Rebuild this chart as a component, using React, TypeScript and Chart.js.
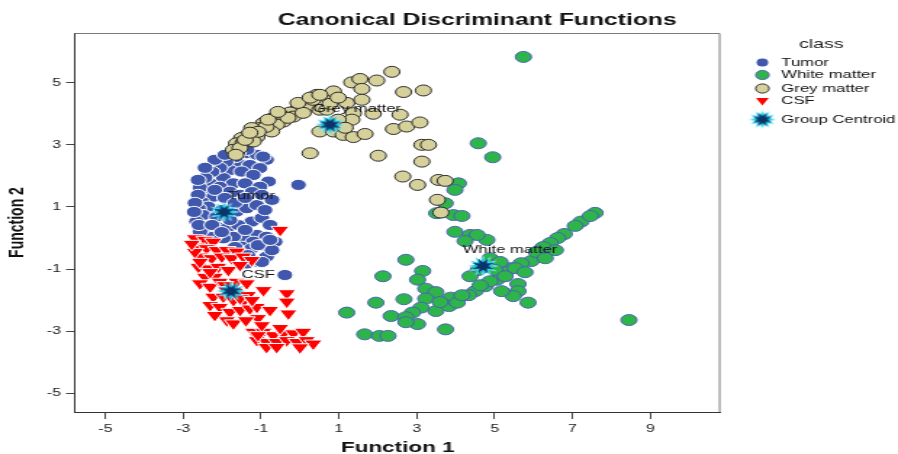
import React, { useEffect, useRef } from 'react';
import { Chart, registerables } from 'chart.js';

Chart.register(...registerables);

// ---------- text ----------
const chartTitle = 'Canonical Discriminant Functions';
const xAxisTitle = 'Function 1';
const yAxisTitle = 'Function 2';
const legendTitle = 'class';
const classNames = ['Tumor', 'White matter', 'Grey matter', 'CSF'];
const centroidLegendLabel = 'Group Centroid';

// ---------- axes ----------
const xTickValues = [-5, -3, -1, 1, 3, 5, 7, 9];
const yTickValues = [-5, -3, -1, 1, 3, 5];
const xRange = [-5.78, 10.8];
const yRange = [-5.6, 6.6];

// ---------- data (Function 1, Function 2) ----------
const tumorPoints: [number, number][] = [
  [-1.37, 2.73], [-1.11, 2.68], [-0.86, 2.52], [-1.59, 2.41], [-1.29, 2.35], [-1.03, 2.25], [-1.8, 2.19],
  [-1.5, 2.14], [-1.2, 2.03], [-0.81, 1.82], [-2.14, 2.03], [-1.97, 1.93], [-1.71, 1.76], [-1.41, 1.76],
  [-1.03, 1.65], [-2.31, 1.76], [-2.06, 1.65], [-1.8, 1.49], [-2.44, 1.49], [-2.23, 1.33], [-2.53, 1.17],
  [-2.36, 1.01], [-2.61, 0.96], [-2.49, 0.74], [-2.14, 0.69], [-1.63, 0.85], [-1.37, 0.96], [-1.11, 1.06],
  [-1.24, 0.53], [-2.66, 0.53], [-2.4, 0.36], [-2.14, 0.36], [-1.88, 0.31], [-1.59, 0.42], [-1.11, 0.1],
  [-0.86, 0.04], [-0.64, -0.12], [-1.46, -0.01], [-1.2, -0.12], [-1.71, 0.04], [-1.97, -0.01], [-2.23, 0.04],
  [-2.57, 0.2], [-1.5, -0.28], [-1.24, -0.33], [-0.86, -0.6], [-1.11, -0.76], [-1.37, -0.82], [-0.39, -1.19],
  [-0.04, 1.71], [-1.65, 2.61], [-1.9, 2.45], [-2.06, 2.26], [-2.26, 2.13], [-2.44, 1.94], [-2.57, 1.61],
  [-2.62, 1.39], [-2.7, 1.13], [-2.72, 0.84], [-2.6, 0.42], [-0.95, 2.62], [-1.36, 2.84], [-1.59, 2.77],
  [-1.85, 1.23], [-1.54, 1.39], [-1.23, 1.48], [-2.01, 0.9], [-1.8, 0.58], [-0.98, 0.65], [-0.77, 0.42],
  [-0.98, -0.23], [-0.72, -0.39], [-2.19, 2.52], [-1.93, 2.68], [-2.44, 2.26], [-2.62, 1.87], [-2.19, 1.55],
  [-1.93, 1.29], [-1.67, 1.13], [-1.41, 1.29], [-0.98, 1.39], [-0.72, 1.23], [-0.9, 0.9], [-2.26, 0.42],
  [-2.01, 0.19], [-1.41, 0.26], [-1.08, -0.23], [-1.67, -0.29], [-0.77, -0.06], [-0.98, -0.77], [-1.34, -0.55],
];

const whiteMatterPoints: [number, number][] = [
  [5.74, 5.83], [4.58, 3.05], [4.95, 2.6], [4.07, 1.76], [3.98, 1.55], [3.73, 1.12], [3.94, 0.74], [4.16, 0.71],
  [3.51, 0.8], [3.98, 0.2], [4.37, 0.1], [4.8, -0.06], [4.55, 0.1], [4.24, -0.1], [7.22, 0.53], [6.79, 0.13],
  [6.62, 0.0], [5.94, -0.74], [5.68, -0.81], [5.4, -0.97], [5.06, -1.34], [4.76, -1.55], [4.5, -1.71],
  [4.33, -1.84], [3.98, -2.03], [3.87, -1.92], [5.6, -1.48], [5.6, -1.71], [5.48, -1.87], [5.86, -2.08],
  [5.18, -1.71], [2.72, -0.7], [2.13, -1.23], [3.15, -1.06], [3.02, -1.34], [3.23, -1.63], [3.49, -1.74],
  [3.23, -1.95], [2.67, -1.97], [1.95, -2.08], [3.11, -2.24], [2.89, -2.4], [3.49, -2.35], [2.34, -2.51],
  [2.72, -2.55], [3.02, -2.77], [2.72, -2.71], [1.2, -2.4], [3.74, -2.94], [1.66, -3.1], [2.04, -3.15],
  [2.26, -3.15], [8.45, -2.64], [3.83, -2.19], [4.04, -2.08], [7.58, 0.81], [7.46, 0.71], [7.07, 0.39],
  [6.43, -0.16], [6.25, -0.29], [6.07, -0.45], [5.27, -1.1], [4.88, -1.39], [4.63, -1.52], [4.16, -1.84],
  [3.6, -2.06], [4.88, -0.65], [5.14, -0.77], [5.01, -1.03], [5.27, -1.23], [5.53, -0.97], [4.58, -1.03],
  [4.37, -1.23], [5.78, -1.1], [6.3, -0.65], [6.56, -0.39],
];

const greyMatterPoints: [number, number][] = [
  [2.36, 5.35], [1.33, 5.01], [1.54, 5.12], [1.97, 5.07], [1.59, 4.8], [2.66, 4.7], [3.17, 4.75], [0.43, 4.61],
  [0.69, 4.54], [0.21, 4.4], [0.0, 4.26], [0.17, 4.24], [1.2, 4.35], [1.37, 4.02], [1.88, 4.0], [2.57, 3.97],
  [-0.08, 4.13], [-0.26, 4.04], [-0.51, 3.97], [-0.69, 3.86], [-0.43, 3.75], [-0.17, 3.91], [-0.6, 3.65],
  [-0.94, 3.7], [-1.03, 3.54], [-1.24, 3.54], [-1.33, 3.32], [-1.5, 3.22], [-1.11, 3.25], [-1.63, 3.05],
  [-1.71, 2.84], [-1.46, 3.07], [-1.2, 3.11], [-0.73, 3.43], [0.51, 4.13], [0.69, 4.13], [2.4, 3.51],
  [2.74, 3.59], [3.08, 3.72], [0.51, 3.43], [0.86, 3.43], [1.11, 3.32], [1.37, 3.25], [1.67, 3.35],
  [1.33, 3.81], [0.26, 2.73], [2.01, 2.65], [3.13, 3.0], [3.3, 3.0], [3.13, 2.46], [0.86, 4.72], [2.64, 1.98],
  [3.02, 1.71], [3.56, 1.87], [3.73, 1.84], [3.53, 1.23], [3.62, 0.82], [-0.87, 3.58], [-1.08, 3.42],
  [-0.31, 3.87], [0.08, 4.03], [0.33, 4.45], [0.77, 4.32], [0.98, 3.81], [1.16, 3.55], [-1.54, 2.9],
  [-1.65, 2.68], [-1.41, 3.16], [-1.29, 3.39], [-0.82, 3.81], [-0.57, 4.06], [-0.05, 4.35], [0.26, 4.52],
  [0.51, 4.61], [0.98, 4.52], [1.59, 4.45],
];

const csfPoints: [number, number][] = [
  [-2.7, -0.01], [-2.44, -0.06], [-2.23, -0.12], [-2.66, -0.28], [-2.4, -0.33], [-2.14, -0.39], [-1.88, -0.39],
  [-1.63, -0.44], [-2.57, -0.6], [-2.27, -0.65], [-2.01, -0.6], [-1.76, -0.65], [-1.46, -0.6], [-1.24, -0.71],
  [-2.61, -0.93], [-2.36, -0.98], [-2.1, -0.93], [-1.84, -1.03], [-2.44, -1.25], [-2.19, -1.25], [-2.57, -1.46],
  [-2.31, -1.57], [-2.06, -1.41], [-1.63, -1.41], [-1.37, -1.46], [-2.23, -1.89], [-1.97, -1.89], [-1.71, -2.0],
  [-1.46, -2.05], [-2.31, -2.16], [-2.06, -2.22], [-1.8, -2.38], [-1.54, -2.32], [-1.29, -2.27], [-1.88, -2.65],
  [-1.71, -2.75], [-1.11, -2.22], [-0.94, -1.68], [-0.51, 0.26], [-0.34, -1.78], [-0.34, -2.05], [-0.77, -2.32],
  [-0.3, -2.43], [-1.2, -3.02], [-0.94, -3.02], [-0.69, -3.13], [-0.43, -3.07], [-0.17, -3.07], [0.08, -3.02],
  [-1.11, -3.29], [-0.86, -3.35], [-0.6, -3.35], [-0.34, -3.29], [-0.08, -3.35], [0.17, -3.29], [0.34, -3.4],
  [-0.86, -3.51], [-0.6, -3.51], [-2.7, -0.45], [-1.54, -0.87], [-1.93, -1.52], [-1.67, -1.74], [-1.34, -1.84],
  [-1.08, -2.58], [-0.98, -2.81], [-2.19, -2.48], [-2.78, -0.19], [-2.57, -0.77], [-2.31, -1.1], [-1.9, -1.68],
  [-1.54, -1.94], [-1.23, -2.0], [-1.39, -2.65], [-1.08, -3.13], [-0.51, -2.9], [0.0, -3.52],
];

// group centroids, in classNames order
const centroidX = [-1.95, 4.7, 0.77, -1.77];
const centroidY = [0.84, -0.9, 3.65, -1.71];

// ---------- look ----------
const DISPLAY_W = 898;
const DISPLAY_H = 454;
const STRETCH = 1.45; // the reference is stretched horizontally
const CANVAS_W = Math.round(DISPLAY_W / STRETCH);
const FONT = '"Liberation Sans", Arial, Helvetica, sans-serif';

const COLORS = {
  tumor: '#3f58ad',
  white: '#2eb54a',
  whiteBorder: '#4a62b8',
  grey: '#d6d09a',
  greyBorder: '#2b2b2b',
  csf: '#ff0000',
};

function makeStar(R: number): HTMLCanvasElement {
  const size = Math.ceil(R * 2 + 4);
  const c = document.createElement('canvas');
  c.width = size;
  c.height = size;
  const g = c.getContext('2d')!;
  const cx = size / 2;
  const cy = size / 2;
  const star = (n: number, ro: number, ri: number, rot: number) => {
    g.beginPath();
    for (let i = 0; i < 2 * n; i++) {
      const r = i % 2 === 0 ? ro : ri;
      const a = rot + (i * Math.PI) / n;
      const x = cx + r * Math.cos(a);
      const y = cy + r * Math.sin(a);
      if (i === 0) g.moveTo(x, y);
      else g.lineTo(x, y);
    }
    g.closePath();
  };
  star(12, R, R * 0.5, -Math.PI / 2);
  g.fillStyle = '#9ef6ff';
  g.fill();
  star(12, R * 0.86, R * 0.45, -Math.PI / 2);
  g.fillStyle = '#18c9e8';
  g.fill();
  star(8, R * 0.72, R * 0.32, -Math.PI / 2 + Math.PI / 8);
  g.fillStyle = '#0b3468';
  g.fill();
  return c;
}

export default function App() {
  const canvasRef = useRef<HTMLCanvasElement | null>(null);

  useEffect(() => {
    const canvas = canvasRef.current;
    if (!canvas) return;
    const starImg = makeStar(11);
    const legendStar = makeStar(10);

    const chartLeft = 75 / STRETCH;
    const chartRight = 720 / STRETCH;
    const chartTop = 33;
    const chartBottom = 412;

    const toXY = (pts: [number, number][]) => pts.map(([x, y]) => ({ x, y }));

    const decor = {
      id: 'decor',
      afterDraw(chart: any) {
        const { ctx, chartArea: a, scales } = chart;
        ctx.save();
        // top / right frame
        ctx.strokeStyle = '#7a7a7a';
        ctx.lineWidth = 1;
        ctx.beginPath();
        ctx.moveTo(a.left, a.top + 0.5);
        ctx.lineTo(a.right - 0.5, a.top + 0.5);
        ctx.lineTo(a.right - 0.5, a.bottom);
        ctx.stroke();

        // title
        ctx.fillStyle = '#111';
        ctx.font = `bold 17px ${FONT}`;
        ctx.textAlign = 'center';
        ctx.textBaseline = 'alphabetic';
        ctx.fillText(chartTitle, 477 / STRETCH, 25);

        // centroid labels
        ctx.font = `11.5px ${FONT}`;
        ctx.textBaseline = 'middle';
        ctx.fillStyle = '#111';
        for (let i = 0; i < classNames.length; i++) {
          const px = scales.x.getPixelForValue(centroidX[i]);
          const py = scales.y.getPixelForValue(centroidY[i]);
          ctx.fillText(classNames[i], px + 27 / STRETCH, py - 16);
        }

        // legend
        const mx = 762 / STRETCH;
        const tx = 781 / STRETCH;
        ctx.font = `13.5px ${FONT}`;
        ctx.textAlign = 'center';
        ctx.fillStyle = '#222';
        ctx.fillText(legendTitle, 821 / STRETCH, 44);
        const rows = [63, 75, 88.5, 101, 120];
        ctx.font = `11.5px ${FONT}`;
        ctx.textAlign = 'left';
        ctx.fillStyle = '#111';
        const labels = [...classNames, centroidLegendLabel];
        labels.forEach((t, i) => ctx.fillText(t, tx, rows[i]));
        // markers
        const circle = (y: number, r: number, fill: string, stroke: string | null) => {
          ctx.beginPath();
          ctx.arc(mx, y, r, 0, Math.PI * 2);
          ctx.fillStyle = fill;
          ctx.fill();
          if (stroke) {
            ctx.lineWidth = 1;
            ctx.strokeStyle = stroke;
            ctx.stroke();
          }
        };
        circle(rows[0] - 0.5, 4, COLORS.tumor, null);
        circle(rows[1], 4.6, COLORS.white, COLORS.whiteBorder);
        circle(rows[2], 4.6, COLORS.grey, COLORS.greyBorder);
        ctx.beginPath();
        const r = 5;
        const ty = rows[3] - 0.5;
        ctx.moveTo(mx - r * 0.87, ty - r * 0.5);
        ctx.lineTo(mx + r * 0.87, ty - r * 0.5);
        ctx.lineTo(mx, ty + r);
        ctx.closePath();
        ctx.fillStyle = COLORS.csf;
        ctx.fill();
        ctx.drawImage(legendStar, mx - legendStar.width / 2, rows[4] - 0.5 - legendStar.height / 2);
        ctx.restore();
      },
    };

    const chart = new Chart(canvas, {
      type: 'scatter',
      data: {
        datasets: [
          {
            label: classNames[0],
            data: toXY(tumorPoints),
            pointStyle: 'circle',
            pointRadius: 5.6,
            backgroundColor: COLORS.tumor,
            borderColor: '#ffffff',
            borderWidth: 1,
            order: 4,
          },
          {
            label: classNames[1],
            data: toXY(whiteMatterPoints),
            pointStyle: 'circle',
            pointRadius: 5.5,
            backgroundColor: COLORS.white,
            borderColor: COLORS.whiteBorder,
            borderWidth: 1,
            order: 3,
          },
          {
            label: classNames[2],
            data: toXY(greyMatterPoints),
            pointStyle: 'circle',
            pointRadius: 5.5,
            backgroundColor: COLORS.grey,
            borderColor: COLORS.greyBorder,
            borderWidth: 1,
            order: 2,
          },
          {
            label: classNames[3],
            data: toXY(csfPoints),
            pointStyle: 'triangle',
            pointRotation: 180,
            pointRadius: 7.2,
            backgroundColor: COLORS.csf,
            borderColor: '#ffffff',
            borderWidth: 1,
            order: 1,
          },
          {
            label: centroidLegendLabel,
            data: centroidX.map((x, i) => ({ x, y: centroidY[i] })),
            pointStyle: starImg as any,
            pointRadius: 11,
            order: 0,
          },
        ],
      },
      options: {
        responsive: false,
        animation: false,
        devicePixelRatio: 1,
        events: [],
        layout: {
          padding: { top: chartTop, right: CANVAS_W - chartRight, left: 0, bottom: 0 },
        },
        plugins: {
          legend: { display: false },
          tooltip: { enabled: false },
          title: { display: false },
        },
        scales: {
          x: {
            type: 'linear',
            min: xRange[0],
            max: xRange[1],
            afterBuildTicks: (scale: any) => {
              scale.ticks = xTickValues.map((v) => ({ value: v }));
            },
            afterFit: (scale: any) => {
              scale.height = DISPLAY_H - chartBottom;
            },
            grid: { drawOnChartArea: false, drawTicks: true, tickLength: 7, color: '#444', lineWidth: 1 },
            border: { display: true, color: '#333', width: 1 },
            ticks: {
              autoSkip: false,
              maxRotation: 0,
              padding: 3,
              color: '#222',
              font: { family: FONT, size: 11 },
              callback: (v: any) => String(v),
            },
            title: {
              display: true,
              text: xAxisTitle,
              color: '#111',
              font: { family: FONT, size: 15.5, weight: 'bold', lineHeight: 0.8 },
              padding: { top: 0, bottom: 0 },
            },
          },
          y: {
            type: 'linear',
            min: yRange[0],
            max: yRange[1],
            afterBuildTicks: (scale: any) => {
              scale.ticks = yTickValues.map((v) => ({ value: v }));
            },
            afterFit: (scale: any) => {
              scale.width = chartLeft;
            },
            grid: { drawOnChartArea: false, drawTicks: true, tickLength: 6.2, color: '#444', lineWidth: 1 },
            border: { display: true, color: '#333', width: 1 },
            ticks: {
              autoSkip: false,
              padding: 3.5,
              color: '#222',
              font: { family: FONT, size: 11 },
              callback: (v: any) => String(v),
            },
            title: {
              display: true,
              text: yAxisTitle,
              color: '#111',
              font: { family: FONT, size: 14, weight: 'bold', lineHeight: 1.2 },
              padding: { top: 4, bottom: 0 },
            },
          },
        },
      } as any,
      plugins: [decor],
    });

    return () => {
      chart.destroy();
    };
  }, []);

  return (
    <div style={{ position: 'absolute', left: 0, top: 0, width: DISPLAY_W, height: DISPLAY_H, background: '#fff' }}>
      <canvas
        ref={canvasRef}
        width={CANVAS_W}
        height={DISPLAY_H}
        style={{ width: `${DISPLAY_W}px`, height: `${DISPLAY_H}px`, display: 'block' }}
      />
    </div>
  );
}
